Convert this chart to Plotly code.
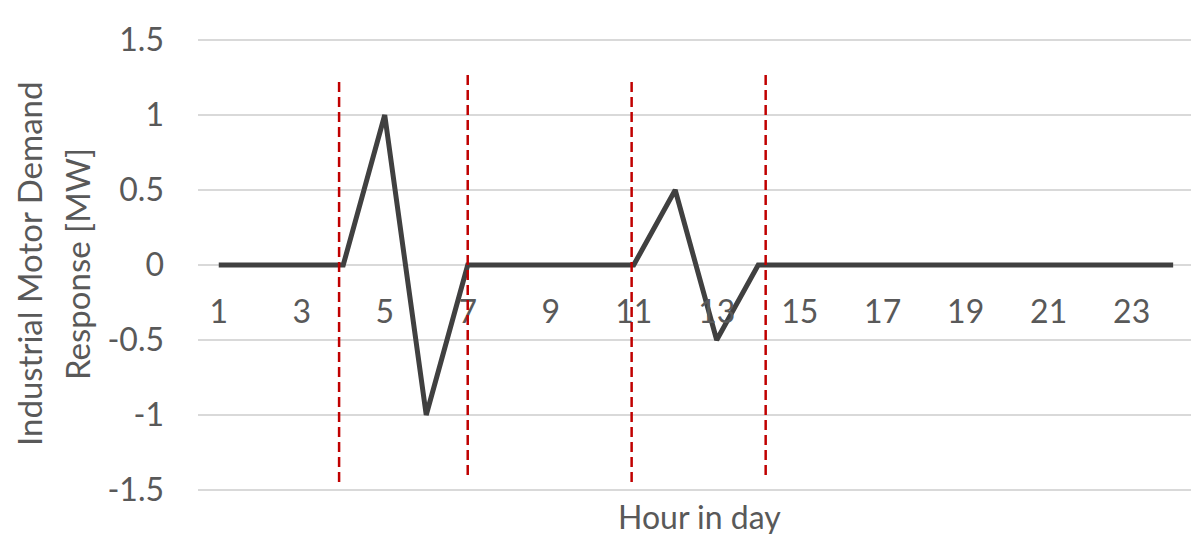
import plotly.graph_objects as go

# Hourly industrial motor demand response profile
hours = list(range(1, 25))
response_mw = [0, 0, 0, 0, 1, -1, 0, 0, 0, 0, 0, 0.5, -0.5, 0,
               0, 0, 0, 0, 0, 0, 0, 0, 0, 0]
tick_hours = list(range(1, 24, 2))
y_ticks = [-1.5, -1, -0.5, 0, 0.5, 1, 1.5]
y_tick_text = ["-1.5", "-1", "-0.5", "0", "0.5", "1", "1.5"]

# Event window boundaries (hour position, lower y, upper y)
window_x = [3.9, 7.0, 10.95, 14.18]
window_y0 = [-1.447, -1.40, -1.447, -1.40]
window_y1 = [1.253, 1.30, 1.253, 1.30]

FONT = "Lato, 'Open Sans', sans-serif"
GREY = "#595959"
PAD = 0.02  # keeps the ±1.5 gridlines inside the plotting area

fig = go.Figure()
fig.add_trace(go.Scatter(
    x=hours, y=response_mw, mode="lines",
    line=dict(color="#404040", width=5), showlegend=False,
))

for x, y0, y1 in zip(window_x, window_y0, window_y1):
    fig.add_shape(type="line", xref="x", yref="y", x0=x, x1=x, y0=y0, y1=y1,
                  line=dict(color="#C00000", width=2.5, dash="10px,5px"))

# Two-line vertical axis title
for text, shift in [("Industrial Motor Demand", -169), ("Response [MW]", -121)]:
    fig.add_annotation(
        text=text, textangle=-90, xref="paper", yref="paper", x=0, y=0.5,
        xanchor="center", yanchor="middle", xshift=shift, yshift=1,
        showarrow=False, font=dict(family=FONT, size=33, color=GREY),
    )

fig.add_annotation(
    text="Hour in day", xref="paper", yref="paper", x=0.505, y=0, yshift=-23,
    xanchor="center", yanchor="middle",
    showarrow=False, font=dict(family=FONT, size=32, color=GREY),
)

fig.update_layout(
    width=1191, height=534,
    margin=dict(l=198, r=0, t=37, b=41),
    plot_bgcolor="white", paper_bgcolor="white",
    font=dict(family=FONT, size=32, color=GREY),
    xaxis=dict(
        range=[0.5, 24.43], tickvals=tick_hours, ticktext=[str(h) for h in tick_hours],
        showgrid=False, zeroline=False, showline=False, ticks="",
        anchor="free", position=0.5, ticklabelstandoff=25,
        tickfont=dict(family=FONT, size=32, color=GREY),
    ),
    yaxis=dict(
        range=[-1.5 - PAD, 1.5 + PAD], tickvals=y_ticks, ticktext=y_tick_text,
        showgrid=True, gridcolor="#d9d9d9", gridwidth=1.5,
        zeroline=True, zerolinecolor="#d9d9d9", zerolinewidth=1.5,
        showline=False, ticks="", ticklabelstandoff=33,
        tickfont=dict(family=FONT, size=32, color=GREY),
    ),
)

fig.write_html("out.html")
